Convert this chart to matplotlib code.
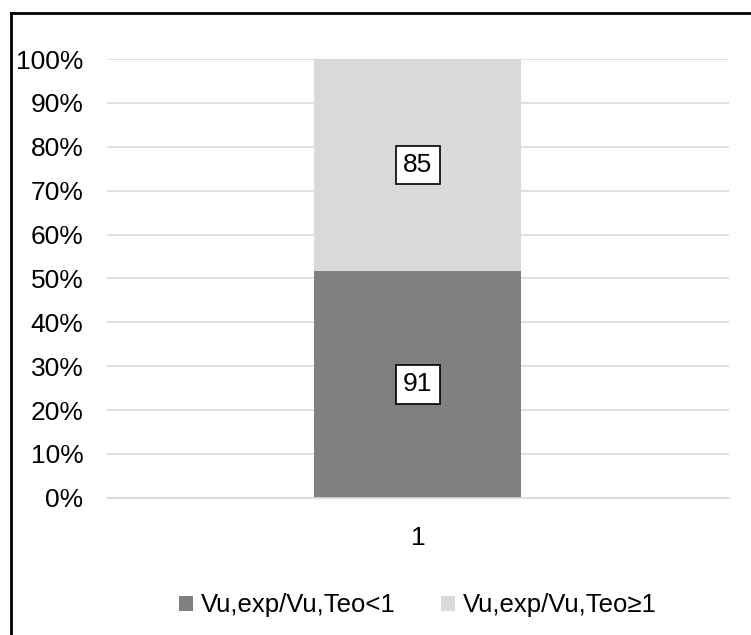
import matplotlib.pyplot as plt
from matplotlib.lines import Line2D
from matplotlib.ticker import PercentFormatter

plt.rcParams['font.family'] = ['Liberation Sans', 'DejaVu Sans']

categories = ['1']
below_one = [91]
above_one = [85]
series_names = ['Vu,exp/Vu,Teo<1', 'Vu,exp/Vu,Teo≥1']
colors = ['#808080', '#d9d9d9']

totals = [a + b for a, b in zip(below_one, above_one)]
share_below = [a / t * 100 for a, t in zip(below_one, totals)]
share_above = [b / t * 100 for b, t in zip(above_one, totals)]

fig = plt.figure(figsize=(7.51, 6.35), dpi=100)
ax = fig.add_axes([0.1425, 0.216, 0.828, 0.691])

x = range(len(categories))
ax.bar(x, share_below, width=0.333, color=colors[0], label=series_names[0], zorder=2)
ax.bar(x, share_above, width=0.333, bottom=share_below, color=colors[1],
       label=series_names[1], zorder=2)

box = dict(boxstyle='square,pad=0.28', fc='white', ec='black', lw=1.2)
for i in x:
    ax.text(i, share_below[i] / 2, str(below_one[i]), ha='center', va='center',
            fontsize=19, bbox=box, zorder=3)
    ax.text(i, share_below[i] + share_above[i] / 2, str(above_one[i]), ha='center',
            va='center', fontsize=19, bbox=box, zorder=3)

ax.set_xlim(-0.5, 0.5)
ax.set_ylim(0, 100)
ax.set_yticks(range(0, 101, 10))
ax.yaxis.set_major_formatter(PercentFormatter(decimals=0))
ax.set_xticks(list(x))
ax.set_xticklabels(categories)
ax.grid(axis='y', color='#d9d9d9', lw=1.2, zorder=0)
for side in ['top', 'right', 'left']:
    ax.spines[side].set_visible(False)
ax.spines['bottom'].set_color('#d9d9d9')
ax.spines['bottom'].set_linewidth(1.2)
ax.tick_params(length=0, labelsize=19, colors='black')
ax.tick_params(axis='y', pad=17)
ax.tick_params(axis='x', pad=20)

ax.legend(loc='upper center', bbox_to_anchor=(0.5, -0.165), ncol=2, frameon=False,
          fontsize=18.5, handlelength=0.55, handleheight=0.55, handletextpad=0.3,
          columnspacing=1.75)

# frame lines along the top and left edge
fig.add_artist(Line2D([11 / 751, 11 / 751], [0, 1 - 13 / 635], color='black', lw=2,
                      transform=fig.transFigure))
fig.add_artist(Line2D([11 / 751, 1], [1 - 13 / 635, 1 - 13 / 635], color='black', lw=2,
                      transform=fig.transFigure))

fig.savefig('out.png', dpi=100)
